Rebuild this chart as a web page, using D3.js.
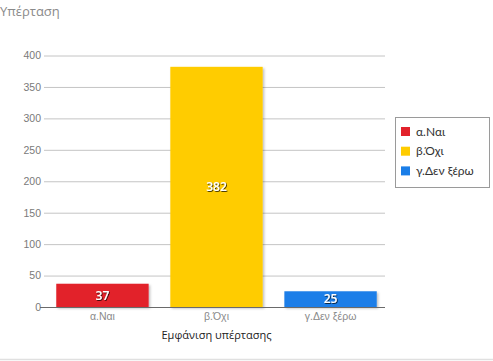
<!DOCTYPE html>
<html><head><meta charset="utf-8">
<script src="https://cdn.jsdelivr.net/npm/d3@7"></script>
<style>
html,body{margin:0;padding:0;background:#fff;}
svg{display:block;font-family:"Open Sans","Segoe UI",sans-serif;}
</style></head>
<body><svg id="chart" width="493" height="361"></svg>
<script>
const categories = ["α.Ναι", "β.Όχι", "γ.Δεν ξέρω"];
const values = [37, 382, 25];
const colors = ["#e2222b", "#ffcc00", "#1a7ee8"];
const yTicks = [0, 50, 100, 150, 200, 250, 300, 350, 400];
const title = "Υπέρταση";
const xTitle = "Εμφάνιση υπέρτασης";

(function () {
const svg = d3.select("#chart");
const defs = svg.append("defs");
const f = defs.append("filter").attr("id","sh").attr("x","-10%").attr("y","-10%").attr("width","130%").attr("height","130%");
f.append("feDropShadow").attr("dx",1.5).attr("dy",1.5).attr("stdDeviation",1.2).attr("flood-color","#000").attr("flood-opacity",0.25);
const tf = defs.append("filter").attr("id","tsh");
tf.append("feDropShadow").attr("dx",0.8).attr("dy",0.8).attr("stdDeviation",0.6).attr("flood-color","#000").attr("flood-opacity",0.85);

const mL = 44, mR = 385, mT = 55.5, mB = 307;
const x = d3.scaleBand().domain(categories).range([mL + 2, mR + 2]).paddingInner(0.19).paddingOuter(0.09);
const y = d3.scaleLinear().domain([0, 400]).range([mB, mT]);

svg.append("text").attr("x", 0).attr("y", 16).attr("fill", "#8a8a8a")
  .attr("font-size", 13).text(title);

const yAxis = d3.axisLeft(y).tickValues(yTicks).tickSize(0).tickPadding(3);
const ga = svg.append("g").attr("transform", `translate(${mL},0)`).call(yAxis);
ga.select(".domain").remove();
ga.selectAll("text").attr("fill", "#7a7a7a").attr("font-size", 10.5);
svg.append("g").selectAll("line").data(yTicks.filter(d => d > 0)).join("line")
  .attr("x1", mL).attr("x2", mR).attr("y1", d => y(d) + 0.5).attr("y2", d => y(d) + 0.5)
  .attr("stroke", "#c4c4c4").attr("stroke-width", 1);

svg.append("g").selectAll("rect").data(values).join("rect")
  .attr("x", (d, i) => x(categories[i])).attr("width", x.bandwidth())
  .attr("y", d => y(d)).attr("height", d => y(0) - y(d))
  .attr("fill", (d, i) => colors[i]).attr("filter", "url(#sh)");

svg.append("line").attr("x1", mL - 4).attr("x2", mR).attr("y1", y(0) + 0.5).attr("y2", y(0) + 0.5)
  .attr("stroke", "#6a6a6a").attr("stroke-width", 1.2);

svg.append("g").selectAll("text").data(values).join("text")
  .attr("x", (d, i) => x(categories[i]) + x.bandwidth() / 2)
  .attr("y", d => (y(d) + y(0)) / 2).attr("dy", "0.36em")
  .attr("text-anchor", "middle").attr("fill", "#fff").attr("font-size", 12)
  .attr("font-weight", 600)
  .attr("filter", "url(#tsh)").text(d => d);

const xAxis = d3.axisBottom(x).tickSize(0).tickPadding(6);
const gx = svg.append("g").attr("transform", `translate(0,${mB})`).call(xAxis);
gx.select(".domain").remove();
gx.selectAll("text").attr("fill", "#8a8a8a").attr("font-size", 10.5);

svg.append("text").attr("x", (mL + mR) / 2 + 2).attr("y", 339).attr("text-anchor", "middle")
  .attr("fill", "#222").attr("font-size", 11).text(xTitle);

const lg = svg.append("g");
lg.append("rect").attr("x", 395.5).attr("y", 117.5).attr("width", 94).attr("height", 70)
  .attr("fill", "#fff").attr("stroke", "#9a9a9a");
const li = lg.selectAll("g").data(categories).join("g")
  .attr("transform", (d, i) => `translate(401,${131.5 + i * 19.7})`);
li.append("rect").attr("x", 0).attr("y", -4.5).attr("width", 9).attr("height", 9)
  .attr("fill", (d, i) => colors[i]);
li.append("text").attr("x", 15).attr("y", 0).attr("dy", "0.35em").attr("font-size", 12)
  .attr("font-family", "Lato, sans-serif")
  .attr("fill", "#333").text(d => d);

svg.append("line").attr("x1", 0).attr("x2", 493).attr("y1", 359.5).attr("y2", 359.5)
  .attr("stroke", "#e0e0e0").attr("stroke-width", 1.5);
})();
</script></body></html>
